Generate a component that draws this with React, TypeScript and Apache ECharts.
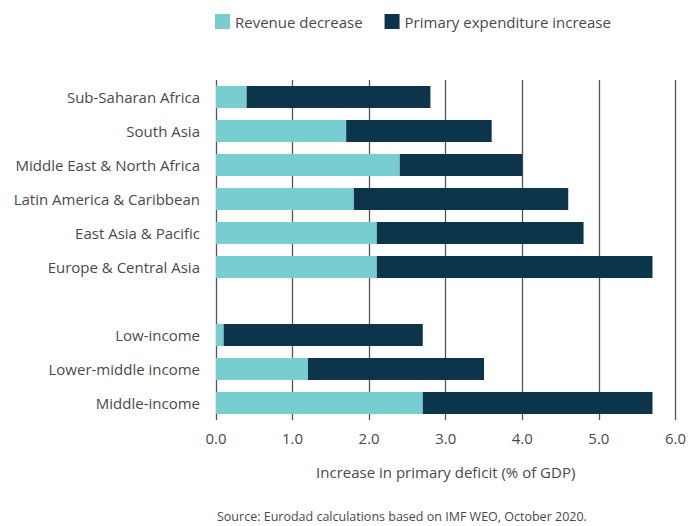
import React, { useEffect, useRef } from "react";
import * as echarts from "echarts";

const categories = [
  "Sub-Saharan Africa",
  "South Asia",
  "Middle East & North Africa",
  "Latin America & Caribbean",
  "East Asia & Pacific",
  "Europe & Central Asia",
  "",
  "Low-income",
  "Lower-middle income",
  "Middle-income",
];
const revenueDecrease: (number | null)[] = [0.4, 1.7, 2.4, 1.8, 2.1, 2.1, null, 0.1, 1.2, 2.7];
const expenditureIncrease: (number | null)[] = [2.4, 1.9, 1.6, 2.8, 2.7, 3.6, null, 2.6, 2.3, 3.0];
const xTicks = [0, 1, 2, 3, 4, 5, 6];

const FONT = "Open Sans";
const TEXT = "#4a4a4a";

export default function App() {
  const ref = useRef<HTMLDivElement>(null);
  useEffect(() => {
    const chart = echarts.init(ref.current!, undefined, { renderer: "svg" });
    chart.setOption({
      animation: false,
      textStyle: { fontFamily: FONT },
      legend: {
        top: 9,
        left: 210,
        itemWidth: 15,
        itemHeight: 15,
        itemGap: 22,
        textStyle: { color: TEXT, fontSize: 15, fontFamily: FONT },
        data: [
          { name: "Revenue decrease", icon: "rect" },
          { name: "Primary expenditure increase", icon: "rect" },
        ],
      },
      grid: { left: 216, right: 13, top: 80, bottom: 106, containLabel: false },
      xAxis: {
        type: "value",
        min: xTicks[0],
        max: xTicks[xTicks.length - 1],
        interval: 1,
        name: "Increase in primary deficit (% of GDP)",
        nameLocation: "middle",
        nameGap: 44,
        nameTextStyle: { color: TEXT, fontSize: 15, fontFamily: FONT },
        axisLabel: {
          color: TEXT,
          fontSize: 15,
          margin: 10,
          formatter: (v: number) => v.toFixed(1),
        },
        axisLine: { show: false },
        axisTick: { show: false },
        splitLine: { show: true, lineStyle: { color: "#555", width: 1.3 } },
      },
      yAxis: {
        type: "category",
        inverse: true,
        data: categories,
        axisLine: { show: false },
        axisTick: { show: false },
        axisLabel: { color: TEXT, fontSize: 15, margin: 16 },
      },
      series: [
        {
          name: "Revenue decrease",
          type: "bar",
          stack: "total",
          barCategoryGap: "35%",
          itemStyle: { color: "#77cdcf" },
          data: revenueDecrease,
        },
        {
          name: "Primary expenditure increase",
          type: "bar",
          stack: "total",
          barCategoryGap: "35%",
          itemStyle: { color: "#0c344a" },
          data: expenditureIncrease,
        },
      ],
      graphic: [
        {
          type: "text",
          left: 217,
          top: 510,
          style: {
            text: "Source: Eurodad calculations based on IMF WEO, October 2020.",
            fill: TEXT,
            fontSize: 12.5,
            fontFamily: FONT,
          },
        },
      ],
    });
    return () => chart.dispose();
  }, []);
  return <div ref={ref} style={{ width: 689, height: 526, position: "absolute", left: 0, top: 0 }} />;
}
